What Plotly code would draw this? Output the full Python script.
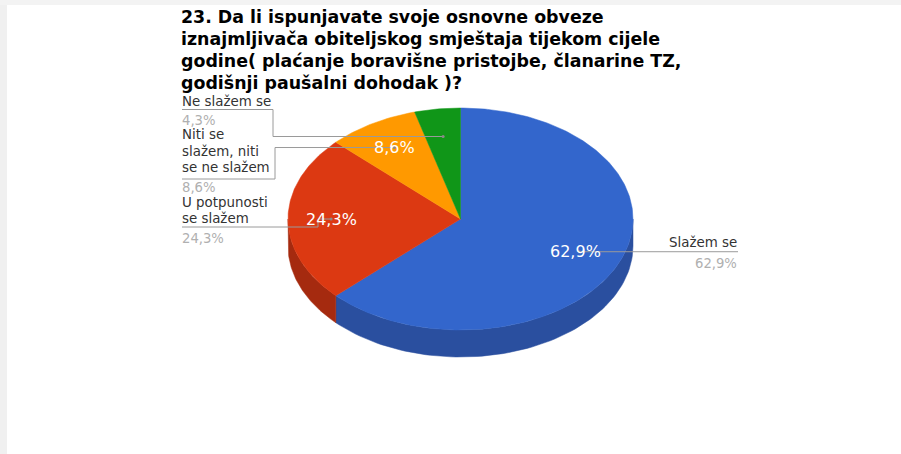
import numpy as np
import plotly.graph_objects as go

# ---- data ----
categories = ["Slažem se", "U potpunosti se slažem", "Niti se slažem, niti se ne slažem", "Ne slažem se"]
counts = [44, 17, 6, 3]
pct_labels = ["62,9%", "24,3%", "8,6%", "4,3%"]
label_lines = [["Slažem se"], ["U potpunosti", "se slažem"], ["Niti se", "slažem, niti", "se ne slažem"], ["Ne slažem se"]]
top_colors = ["#3366CC", "#DC3912", "#FF9900", "#109618"]
side_colors = ["#2A4F9F", "#A52A0F", "#C47600", "#0C7312"]
title_lines = [
    "23. Da li ispunjavate svoje osnovne obveze",
    "iznajmljivača obiteljskog smještaja tijekom cijele",
    "godine( plaćanje boravišne pristojbe, članarine TZ,",
    "godišnji paušalni dohodak )?",
]

# ---- geometry (layout) ----
W, H = 901, 454
cx, cy, rx, ry, depth = 460.5, 219.0, 172.5, 111.0, 27.0
LABEL_F = 0.75

total = sum(counts)
fracs = np.array(counts) / total
ends = np.cumsum(fracs) * 360.0
starts = ends - fracs * 360.0


def pt(theta_deg, f=1.0, dy=0.0):
    t = np.radians(theta_deg)
    return cx + f * rx * np.sin(t), cy - f * ry * np.cos(t) + dy


fig = go.Figure()

# sides (front half: 90..270 deg clockwise from top)
for i in range(len(counts)):
    a, b = max(starts[i], 90.0), min(ends[i], 270.0)
    if b <= a:
        continue
    th = np.linspace(a, b, 80)
    xt, yt = pt(th)
    xb, yb = pt(th[::-1], dy=depth)
    xs = np.concatenate([xt, xb, xt[:1]])
    ys = np.concatenate([yt, yb, yt[:1]])
    fig.add_trace(go.Scatter(x=xs, y=ys, mode="lines", fill="toself",
                             fillcolor=side_colors[i], line=dict(color=side_colors[i], width=0.5),
                             hoverinfo="skip", showlegend=False))

# top faces
for i in range(len(counts)):
    th = np.linspace(starts[i], ends[i], max(int(fracs[i] * 400), 10))
    xa, ya = pt(th)
    xs = np.concatenate([[cx], xa, [cx]])
    ys = np.concatenate([[cy], ya, [cy]])
    fig.add_trace(go.Scatter(x=xs, y=ys, mode="lines", fill="toself",
                             fillcolor=top_colors[i], line=dict(color=top_colors[i], width=0.5),
                             name=categories[i], text=f"{categories[i]}: {pct_labels[i]}",
                             hoverinfo="text", showlegend=False))

mids = (starts + ends) / 2.0
anchors = [pt(m, f=LABEL_F) for m in mids]

FAM = "DejaVu Sans, Verdana, sans-serif"
LINE = dict(color="#9a9a9a", width=1)
NAME_FONT = dict(family=FAM, size=13.4, color="#333333")
PCT_FONT = dict(family=FAM, size=13.2, color="#b0b0b0")
IN_FONT = dict(family=FAM, size=16, color="#ffffff")

# leader lines
ax0, ay0 = anchors[0]
fig.add_trace(go.Scatter(x=[ax0, 738], y=[ay0, ay0], mode="lines", line=LINE, hoverinfo="skip", showlegend=False))
ax1, ay1 = anchors[1]
fig.add_trace(go.Scatter(x=[182, 318, 318, ax1], y=[227, 227, ay1, ay1], mode="lines", line=LINE, hoverinfo="skip", showlegend=False))
ax2, ay2 = anchors[2]
fig.add_trace(go.Scatter(x=[182, 275, 275, ax2], y=[179, 179, ay2, ay2], mode="lines", line=LINE, hoverinfo="skip", showlegend=False))
ax3, ay3 = anchors[3]
fig.add_trace(go.Scatter(x=[182, 273, 273, ax3], y=[109.5, 109.5, ay3, ay3], mode="lines", line=LINE, hoverinfo="skip", showlegend=False))
fig.add_trace(go.Scatter(x=[a[0] for a in anchors], y=[a[1] for a in anchors], mode="markers",
                         marker=dict(size=3, color="#8a8a8a"), hoverinfo="skip", showlegend=False))

ann = []
for i in range(3):
    ax_, ay_ = anchors[i]
    ann.append(dict(x=ax_ - (4 if i == 0 else 0), y=ay_, text=pct_labels[i], showarrow=False,
                    font=IN_FONT, xanchor="center", yanchor="middle"))

ann.append(dict(x=739, y=242, text=label_lines[0][0], showarrow=False, font=NAME_FONT, xanchor="right", yanchor="middle"))
ann.append(dict(x=739, y=263.5, text=pct_labels[0], showarrow=False, font=PCT_FONT, xanchor="right", yanchor="middle"))

left_pos = {3: ([101.5], 120.5), 2: ([134.5, 151, 167], 187.5), 1: ([202.5, 218], 238)}
for i, (ys, py) in left_pos.items():
    for line, yv in zip(label_lines[i], ys):
        ann.append(dict(x=180, y=yv, text=line, showarrow=False, font=NAME_FONT, xanchor="left", yanchor="middle"))
    ann.append(dict(x=180, y=py, text=pct_labels[i], showarrow=False, font=PCT_FONT, xanchor="left", yanchor="middle"))

for k, t in enumerate(title_lines):
    ann.append(dict(x=179, y=17 + k * 22.0, text=f"<b>{t}</b>", showarrow=False,
                    font=dict(family=FAM, size=17.4, color="#000000"),
                    xanchor="left", yanchor="middle"))

fig.update_layout(
    width=W, height=H,
    margin=dict(l=0, r=0, t=0, b=0),
    paper_bgcolor="#ffffff", plot_bgcolor="#ffffff",
    xaxis=dict(range=[0, W], visible=False, fixedrange=True),
    yaxis=dict(range=[H, 0], visible=False, fixedrange=True),
    annotations=ann,
    shapes=[
        dict(type="rect", xref="x", yref="y", x0=0, x1=7, y0=0, y1=H, fillcolor="#f0f0f0", line=dict(width=0), layer="below"),
        dict(type="rect", xref="x", yref="y", x0=0, x1=W, y0=0, y1=5, fillcolor="#f3f3f3", line=dict(width=0), layer="below"),
    ],
)

fig.write_html("out.html")
